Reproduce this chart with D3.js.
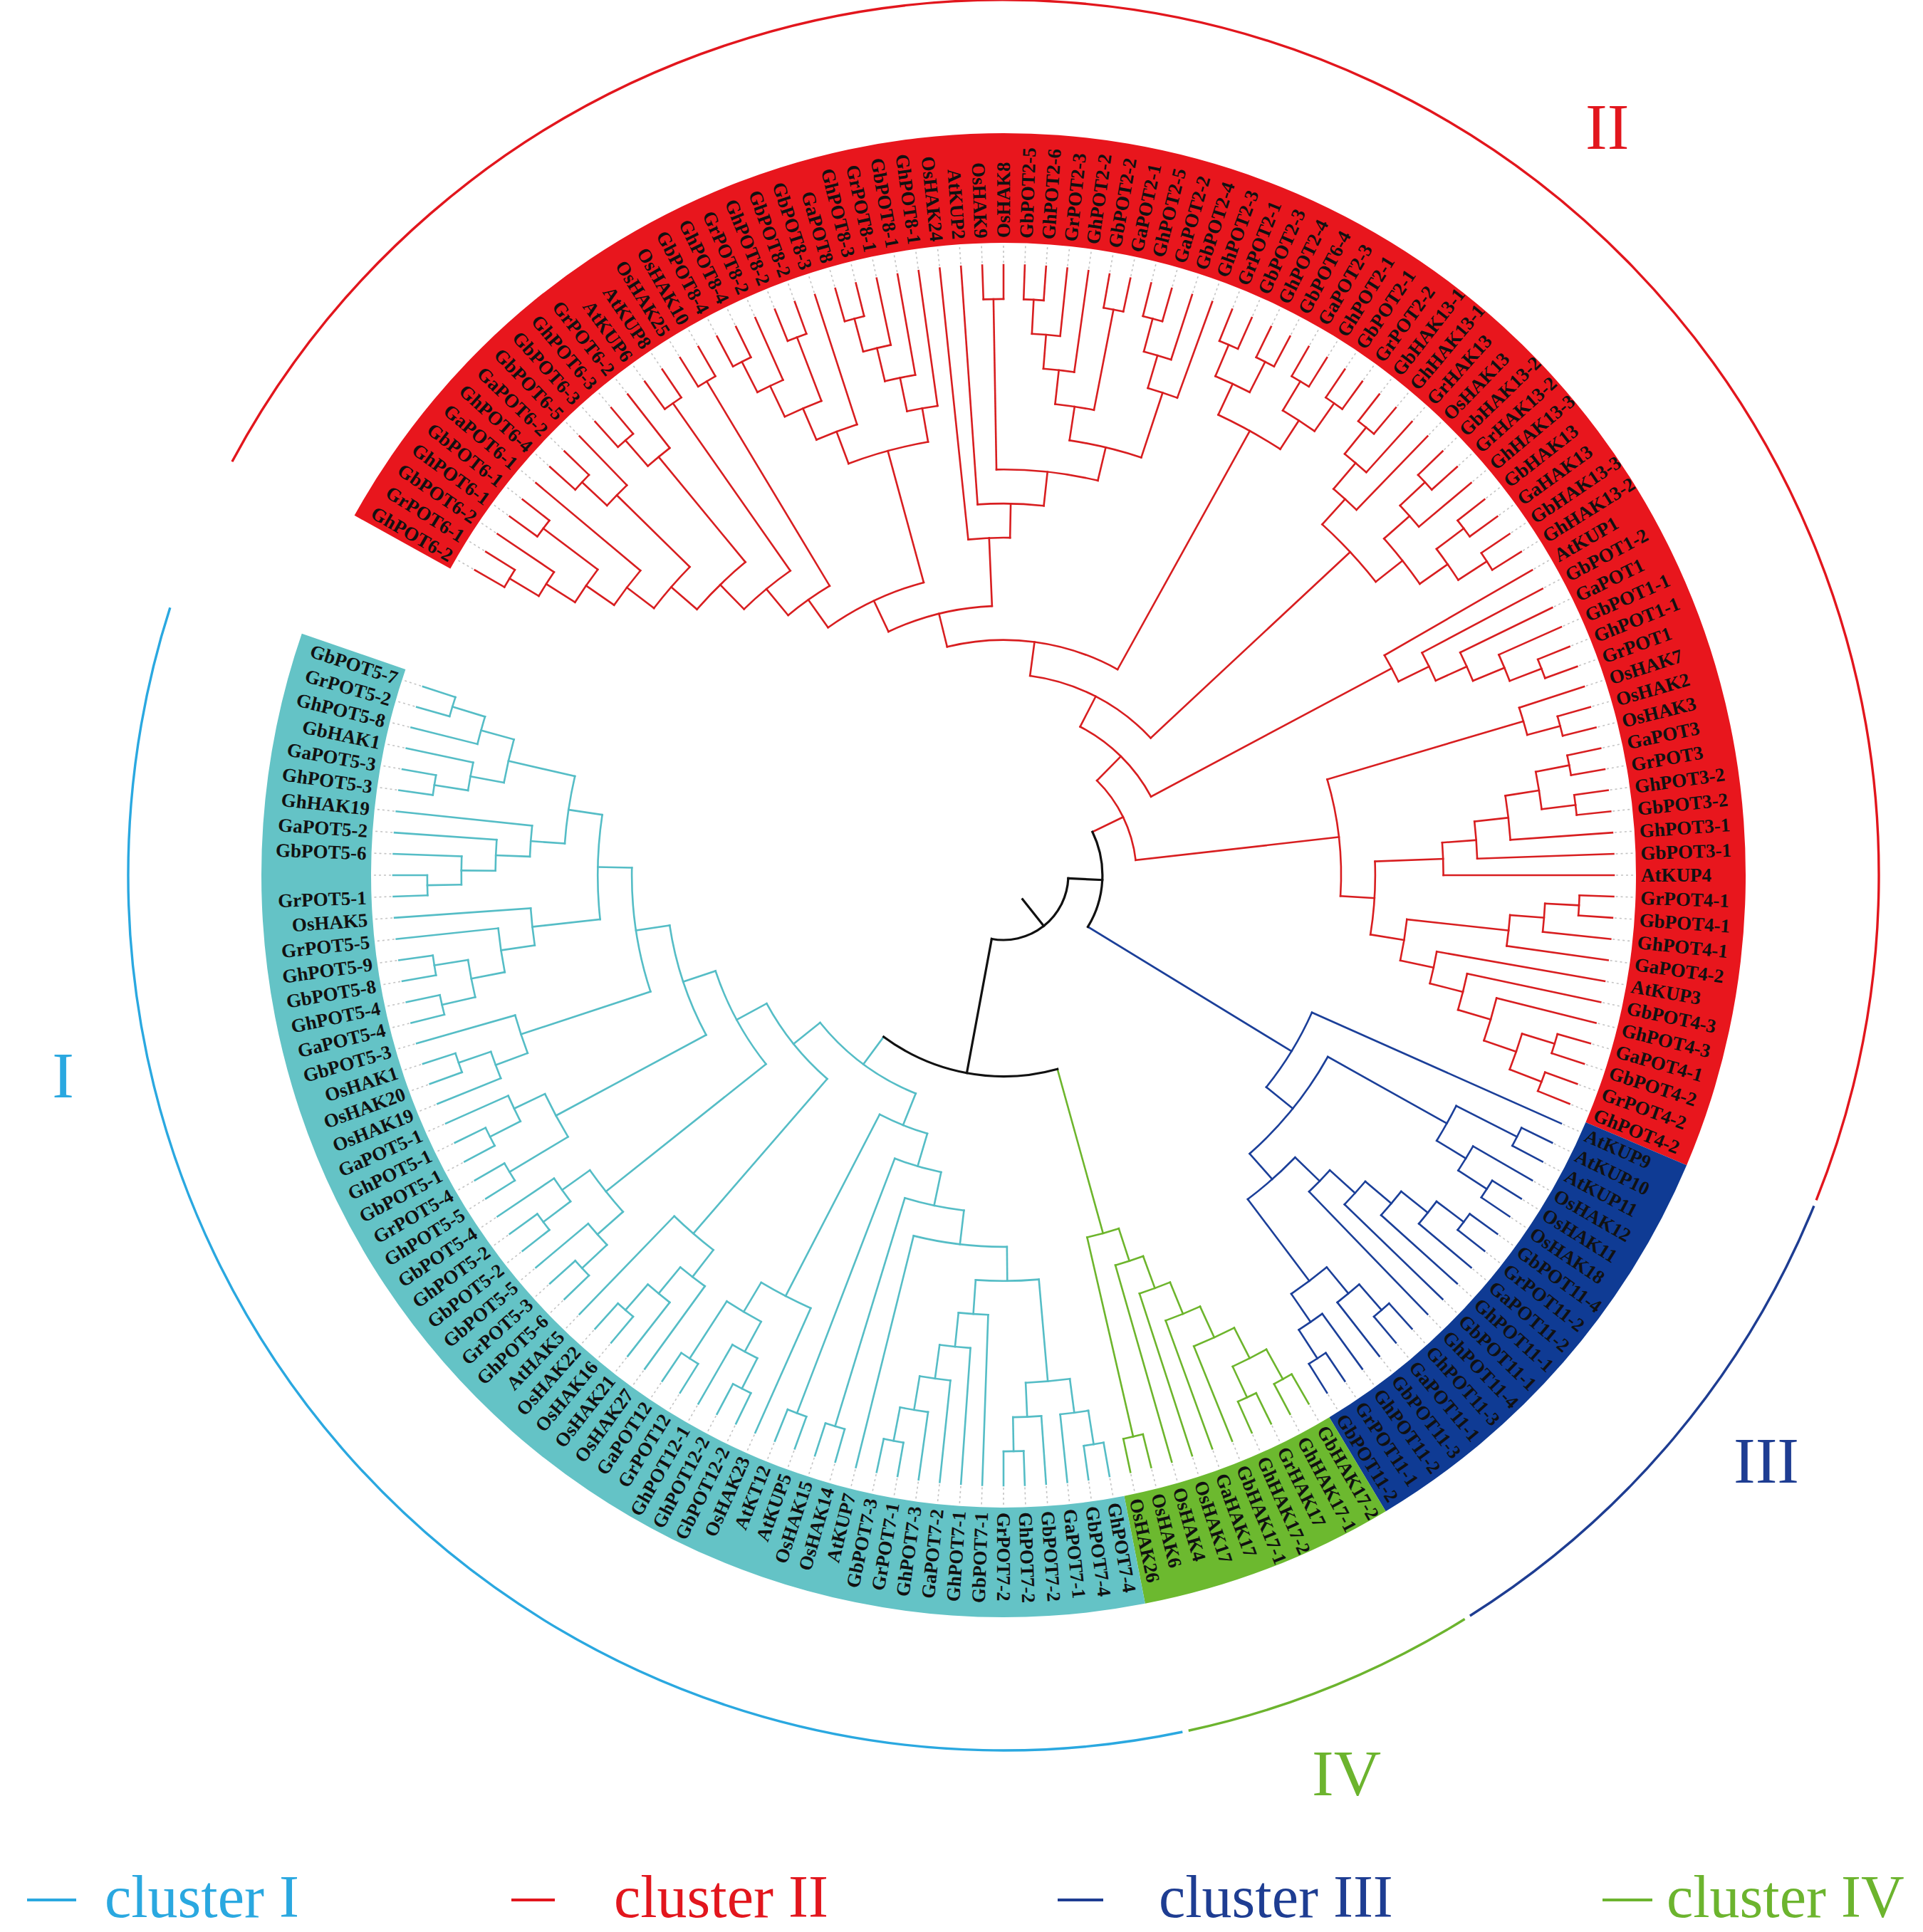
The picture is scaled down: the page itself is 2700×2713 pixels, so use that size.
<!DOCTYPE html>
<html>
<head>
<meta charset="utf-8">
<script src="https://cdn.jsdelivr.net/npm/d3@7"></script>
<style>
  html, body { margin: 0; padding: 0; background: #fff; }
  svg { display: block; }
</style>
</head>
<body>
<div id="chart"></div>
<script>
// ---------- data ----------
// sub-clades in Newick form, leaves listed clockwise
const pot6 = "((((((((GhPOT6-2,GrPOT6-1),GbPOT6-2),(GhPOT6-1,GbPOT6-1)),GaPOT6-1),((GhPOT6-4,GaPOT6-2),GbPOT6-5)),((GbPOT6-3,GhPOT6-3),GrPOT6-2)),(AtKUP6,AtKUP8)),(OsHAK25,OsHAK10))";
const pot8 = "(((((GbPOT8-4,GhPOT8-4),GrPOT8-2),(GhPOT8-2,GbPOT8-2)),GbPOT8-3),((((GaPOT8,GhPOT8-3),GrPOT8-1),GbPOT8-1),GhPOT8-1))";
const pot2a = "((((GbPOT2-5,GhPOT2-6),GrPOT2-3),GhPOT2-2),(GbPOT2-2,GaPOT2-1))";
const pot2b = "(((GhPOT2-5,GaPOT2-2),GbPOT2-4),GhPOT2-3)";
const pot2c = "(((GrPOT2-1,GbPOT2-3),(GhPOT2-4,GbPOT6-4)),((GaPOT2-3,GhPOT2-1),(GbPOT2-1,GrPOT2-2)))";
const hak13 = "((((GbHAK13-1,GhHAK13-1),GrHAK13),OsHAK13),(((GbHAK13-2,GrHAK13-2),GhHAK13-3),((GbHAK13,GaHAK13),(GbHAK13-3,GhHAK13-2))))";
const pot1 = "(AtKUP1,(GbPOT1-2,(GaPOT1,(GbPOT1-1,(GhPOT1-1,GrPOT1)))))";
const hak7 = "(OsHAK7,(OsHAK2,OsHAK3))";
const pot3 = "(((((GaPOT3,GrPOT3),(GhPOT3-2,GbPOT3-2)),GhPOT3-1),GbPOT3-1),AtKUP4)";
const pot4 = "((((GrPOT4-1,GbPOT4-1),GhPOT4-1),GaPOT4-2),(AtKUP3,(GbPOT4-3,(GhPOT4-3,((GaPOT4-1,GbPOT4-2),(GrPOT4-2,GhPOT4-2))))))";

const pot7 = "((((GhPOT7-4,GbPOT7-4),GaPOT7-1),(GbPOT7-2,(GhPOT7-2,GrPOT7-2))),(GbPOT7-1,(GhPOT7-1,(GaPOT7-2,(GhPOT7-3,(GrPOT7-1,GbPOT7-3))))))";
const pot12 = "(OsHAK23,(((GbPOT12-2,GhPOT12-2),GhPOT12-1),(GrPOT12,GaPOT12)))";
const hak5 = "((OsHAK27,(OsHAK21,(OsHAK16,OsHAK22))),AtHAK5)";
const pot5a = "(((GhPOT5-6,GrPOT5-3),GbPOT5-5),((GbPOT5-2,GhPOT5-2),GbPOT5-4))";
const pot5b = "((GhPOT5-5,GrPOT5-4),((GbPOT5-1,GhPOT5-1),GaPOT5-1))";
const hak1 = "((OsHAK19,(OsHAK20,OsHAK1)),GbPOT5-3)";
const pot5c = "((((GaPOT5-4,GhPOT5-4),(GbPOT5-8,GhPOT5-9)),GrPOT5-5),OsHAK5)";
const pot5d = "(((((GrPOT5-1,),GbPOT5-6),GaPOT5-2),GhHAK19),(((GhPOT5-3,GaPOT5-3),GbHAK1),(GhPOT5-8,(GrPOT5-2,GbPOT5-7))))";

const treeII = `((((((${pot6},${pot8}),(OsHAK24,(AtKUP2,((OsHAK9,OsHAK8),(${pot2a},${pot2b}))))),${pot2c}),${hak13}),${pot1}),(${hak7},(${pot3},${pot4})))`;
const treeIII = "(AtKUP9,(((AtKUP10,AtKUP11),(OsHAK12,(OsHAK11,OsHAK18))),((((((GbPOT11-4,GrPOT11-2),GaPOT11-2),GhPOT11-1),GbPOT11-1),GhPOT11-4),(((GhPOT11-3,GaPOT11-1),GbPOT11-3),(GhPOT11-2,(GrPOT11-1,GbPOT11-2))))))";
const treeIV = "(((((((GbHAK17-2,GhHAK17-1),(GrHAK17,GhHAK17-2)),GbHAK17-1),GaHAK17),OsHAK17),OsHAK4),(OsHAK6,OsHAK26))";
const treeI = `(((((${pot7},AtKUP7),(OsHAK14,OsHAK15)),(AtKUP5,AtKT12)),${pot12}),(${hak5},(${pot5a},(${pot5b},(${hak1},(${pot5c},${pot5d}))))))`;

// clusters in clockwise order round the circle
const clusterKeys = ["II", "III", "IV", "I"];
const clusterTrees = [treeII, treeIII, treeIV, treeI];
const legendKeys = ["I", "II", "III", "IV"];
const legendLabels = ["cluster I", "cluster II", "cluster III", "cluster IV"];

// ---------- style / layout ----------
const bandColor = { II: "#e8161d", III: "#0f3b94", IV: "#6cb92f", I: "#64c3c6" };
const branchColor = { II: "#d81e20", III: "#1b3f99", IV: "#6db52c", I: "#55bdc6" };
const ringColor = { I: "#2aa8e0", II: "#e2161d", III: "#1e3d92", IV: "#6cb42e" };
const numeralAngle = { I: 258, II: 38.9, III: 127.5, IV: 159.1 };
const legendPos = [
  { x1: 38, x2: 107, tx: 147 },
  { x1: 718, x2: 779, tx: 862 },
  { x1: 1485, x2: 1549, tx: 1627 },
  { x1: 2250, x2: 2320, tx: 2340 }
];

const W = 2700, H = 2713;
const cx = 1409, cy = 1229;
const R = { stub: 43, root: 91, tip: 857, bandIn: 888, bandOut: 1042, label: 895, ring: 1229, numeral: 1350 };
const startAngle = 299, span = 350;

function parseNewick(s) {
  let i = 0;
  function readName() {
    const st = i;
    while (i < s.length && !",()".includes(s[i])) i++;
    return s.slice(st, i);
  }
  function node() {
    if (s[i] === "(") {
      i++;
      const children = [node()];
      while (s[i] === ",") { i++; children.push(node()); }
      i++;
      return { name: readName(), children };
    }
    return { name: readName() };
  }
  return node();
}

const clusterRoots = clusterKeys.map((k, i) => {
  const t = parseNewick(clusterTrees[i]);
  t.cluster = k;
  return t;
});
const rootData = { children: [
  { children: [clusterRoots[0], clusterRoots[1]] },
  { children: [clusterRoots[2], clusterRoots[3]] }
] };

const root = d3.hierarchy(rootData);
d3.cluster().size([span, 1]).separation(() => 1)(root);

const rScale = d3.scaleLinear().domain([0, 1]).range([R.root, R.tip]);
root.each(d => {
  d.angle = startAngle + d.x;
  d.radius = rScale(d.y);
  const tagged = d.ancestors().find(a => a.data.cluster);
  d.cluster = tagged ? tagged.data.cluster : null;
});

const rad = a => a * Math.PI / 180;
const pt = (r, a) => [r * Math.sin(rad(a)), -r * Math.cos(rad(a))];
function arcPath(r, a0, a1) {
  const p = d3.path();
  const [x0, y0] = pt(r, a0);
  p.moveTo(x0, y0);
  p.arc(0, 0, r, rad(a0 - 90), rad(a1 - 90), false);
  return p.toString();
}
const lineColor = d => d.cluster ? branchColor[d.cluster] : "#111";
const isFlipped = d => {
  const a = ((d.angle % 360) + 360) % 360;
  return a > 180.5 && a < 359.5;
};

const svg = d3.select("#chart").append("svg")
  .attr("width", W)
  .attr("height", H)
  .attr("viewBox", `0 0 ${W} ${H}`);
svg.append("rect").attr("width", W).attr("height", H).attr("fill", "#fff");

const g = svg.append("g").attr("transform", `translate(${cx},${cy})`);

// coloured label bands
const leaves = root.leaves();
const extent = {};
clusterKeys.forEach(k => {
  const ls = leaves.filter(d => d.cluster === k);
  extent[k] = [d3.min(ls, d => d.angle) - 1, d3.max(ls, d => d.angle) + 1];
});
const bandArc = d3.arc().innerRadius(R.bandIn).outerRadius(R.bandOut);
g.append("g").selectAll("path")
  .data(clusterKeys)
  .join("path")
  .attr("d", k => bandArc({ startAngle: rad(extent[k][0]), endAngle: rad(extent[k][1]) }))
  .attr("fill", k => bandColor[k]);

// dotted leaders from tips to the band
g.append("g").selectAll("line")
  .data(leaves)
  .join("line")
  .attr("x1", d => pt(d.radius + 3, d.angle)[0])
  .attr("y1", d => pt(d.radius + 3, d.angle)[1])
  .attr("x2", d => pt(R.bandIn - 2, d.angle)[0])
  .attr("y2", d => pt(R.bandIn - 2, d.angle)[1])
  .attr("stroke", "#c4c4c4")
  .attr("stroke-width", 1.6)
  .attr("stroke-dasharray", "3 4");

// tree: radial branches, then node arcs
const tree = g.append("g").attr("fill", "none").attr("stroke-linecap", "square");
tree.selectAll(".radial")
  .data(root.descendants().filter(d => d.parent))
  .join("path")
  .attr("class", "radial")
  .attr("d", d => {
    const a = pt(d.parent.radius, d.angle), b = pt(d.radius, d.angle);
    return `M${a[0]},${a[1]}L${b[0]},${b[1]}`;
  })
  .attr("stroke", lineColor)
  .attr("stroke-width", d => d.cluster ? 2.6 : 3.2);

tree.selectAll(".nodeArc")
  .data(root.descendants().filter(d => d.children))
  .join("path")
  .attr("class", "nodeArc")
  .attr("d", d => arcPath(d.radius, d.children[0].angle, d.children[d.children.length - 1].angle))
  .attr("stroke", lineColor)
  .attr("stroke-width", d => d.cluster ? 2.6 : 3.2);

// root stub
const s0 = pt(R.stub, root.angle), s1 = pt(root.radius, root.angle);
tree.append("path")
  .attr("d", `M${s0[0]},${s0[1]}L${s1[0]},${s1[1]}`)
  .attr("stroke", "#111")
  .attr("stroke-width", 3.2);

// leaf labels
g.append("g").selectAll("text")
  .data(leaves)
  .join("text")
  .attr("transform", d => `rotate(${d.angle - 90}) translate(${R.label},0)` + (isFlipped(d) ? " rotate(180)" : ""))
  .attr("text-anchor", d => isFlipped(d) ? "end" : "start")
  .attr("dy", "0.35em")
  .style("font-family", "'Liberation Serif', 'Times New Roman', serif")
  .style("font-weight", "bold")
  .style("font-size", "27px")
  .attr("fill", "#111")
  .text(d => d.data.name);

// outer cluster rings and numerals
g.append("g").selectAll("path")
  .data(clusterKeys)
  .join("path")
  .attr("d", k => arcPath(R.ring, extent[k][0] - 0.8, extent[k][1] - 1.2))
  .attr("fill", "none")
  .attr("stroke", k => ringColor[k])
  .attr("stroke-width", 3.4);

g.append("g").selectAll("text")
  .data(clusterKeys)
  .join("text")
  .attr("x", k => pt(R.numeral, numeralAngle[k])[0])
  .attr("y", k => pt(R.numeral, numeralAngle[k])[1])
  .attr("text-anchor", "middle")
  .attr("dominant-baseline", "central")
  .style("font-family", "'Liberation Serif', 'Times New Roman', serif")
  .style("font-size", "92px")
  .attr("fill", k => ringColor[k])
  .text(k => k);

// legend
const legend = svg.append("g");
legend.selectAll("line")
  .data(legendKeys)
  .join("line")
  .attr("x1", (k, i) => legendPos[i].x1)
  .attr("x2", (k, i) => legendPos[i].x2)
  .attr("y1", 2668)
  .attr("y2", 2668)
  .attr("stroke", k => ringColor[k])
  .attr("stroke-width", 4);
legend.selectAll("text")
  .data(legendKeys)
  .join("text")
  .attr("x", (k, i) => legendPos[i].tx)
  .attr("y", 2692)
  .style("font-family", "'Liberation Serif', 'Times New Roman', serif")
  .style("font-size", "84px")
  .attr("fill", k => ringColor[k])
  .text((k, i) => legendLabels[i]);
</script>
</body>
</html>
